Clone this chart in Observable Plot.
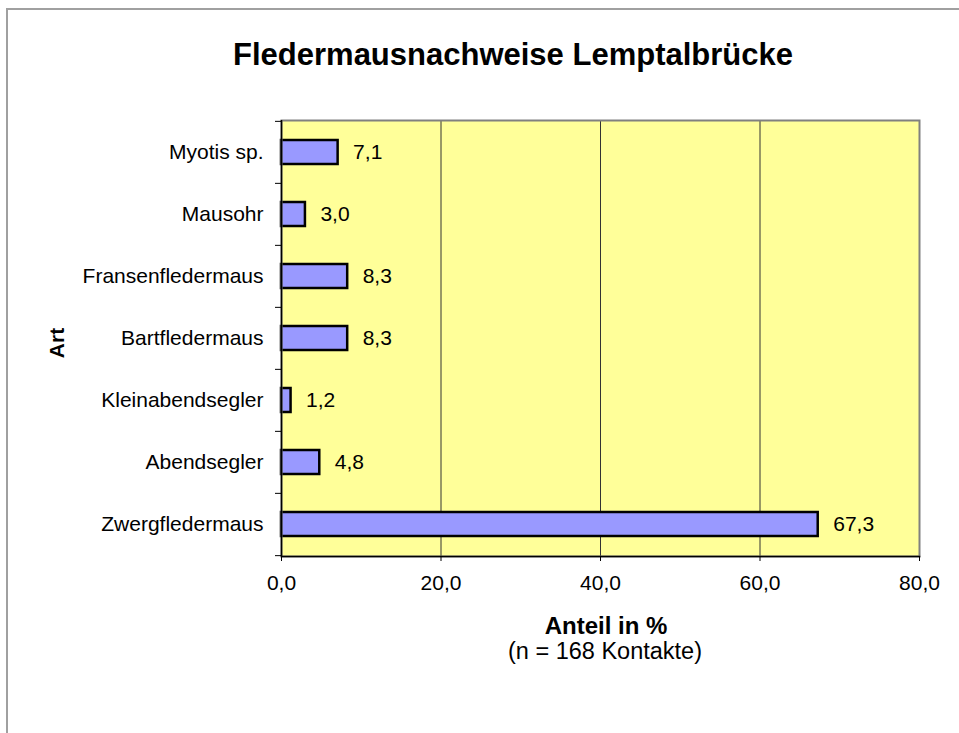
<!DOCTYPE html>
<html>
<head>
<meta charset="utf-8">
<script src="https://cdn.jsdelivr.net/npm/d3@7"></script>
<script src="https://cdn.jsdelivr.net/npm/@observablehq/plot@0.6"></script>
<style>
  html, body { margin: 0; padding: 0; background: #fff; overflow: hidden; }
  body { width: 959px; height: 733px; position: relative; font-family: "Liberation Sans", Arial, sans-serif; color: #000; }
  #frame { position: absolute; left: 6px; top: 8px; width: 960px; height: 740px; border-left: 2px solid #a0a0a0; border-top: 2px solid #a0a0a0; box-sizing: border-box; }
  #title { position: absolute; left: 513px; top: 39px; transform: translateX(-50%); white-space: nowrap; font-weight: bold; font-size: 31px; line-height: 1; }
  #chart { position: absolute; left: 0; top: 100px; }
  #ylabel { position: absolute; left: 56px; top: 343px; transform: translate(-50%, -50%) rotate(-90deg); font-weight: bold; font-size: 21px; line-height: 1; white-space: nowrap; }
  #xlabel { position: absolute; left: 606px; top: 614px; transform: translateX(-50%); font-weight: bold; font-size: 24px; line-height: 1; white-space: nowrap; }
  #caption { position: absolute; left: 605px; top: 640px; transform: translateX(-50%); font-size: 23.5px; line-height: 1; white-space: nowrap; }
</style>
</head>
<body>
<div id="frame"></div>
<div id="title">Fledermausnachweise Lemptalbrücke</div>
<div id="chart"></div>
<div id="ylabel">Art</div>
<div id="xlabel">Anteil in %</div>
<div id="caption">(n = 168 Kontakte)</div>
<script>
const species = ["Myotis sp.", "Mausohr", "Fransenfledermaus", "Bartfledermaus", "Kleinabendsegler", "Abendsegler", "Zwergfledermaus"];
const shares = [7.1, 3.0, 8.3, 8.3, 1.2, 4.8, 67.3];
const xTicks = [0, 20, 40, 60, 80];
const gridValues = [20, 40, 60];

const data = species.map((s, i) => ({species: s, share: shares[i]}));
const fmt = d => d.toFixed(1).replace(".", ",");

const W = 959, H = 500, mT = 20, mB = 44, mL = 281, mR = 40;
const step = (H - mT - mB) / species.length;

const chart = Plot.plot({
  width: W, height: H,
  marginTop: mT, marginBottom: mB, marginLeft: mL, marginRight: mR,
  style: {fontFamily: "'Liberation Sans', Arial, sans-serif", fontSize: "21px", color: "#000", background: "transparent", overflow: "visible"},
  x: {domain: [0, 80], label: null},
  y: {domain: species, padding: 0, label: null},
  marks: [
    Plot.frame({fill: "#FFFF99", stroke: null}),
    Plot.ruleX(gridValues, {stroke: "#333", strokeWidth: 1}),
    Plot.barX(data, {x: "share", y: "species", fill: "#9999FF", stroke: "#000", strokeWidth: 2.5, insetTop: 19, insetBottom: 19}),
    Plot.text(data, {x: "share", y: "species", text: d => fmt(d.share), textAnchor: "start", dx: 15, fontSize: 21, fill: "#000"}),
    Plot.frame({stroke: "#808080", strokeWidth: 2}),
    Plot.ruleX([0], {stroke: "#000", strokeWidth: 1.5}),
    Plot.frame({anchor: "bottom", stroke: "#000", strokeWidth: 1.5}),
    Plot.axisX({ticks: xTicks, tickFormat: fmt, tickSize: 5, tickPadding: 14, fontSize: 21, stroke: "#000", label: null}),
    Plot.axisY({tickSize: 0, tickPadding: 18, fontSize: 21, label: null}),
    Plot.axisY({tickSize: 6, tickFormat: () => "", dy: -step / 2, stroke: "#000", label: null}),
    Plot.axisY({ticks: [species[species.length - 1]], tickSize: 6, tickFormat: () => "", dy: step / 2, stroke: "#000", label: null})
  ]
});
document.getElementById("chart").appendChild(chart);
</script>
</body>
</html>
